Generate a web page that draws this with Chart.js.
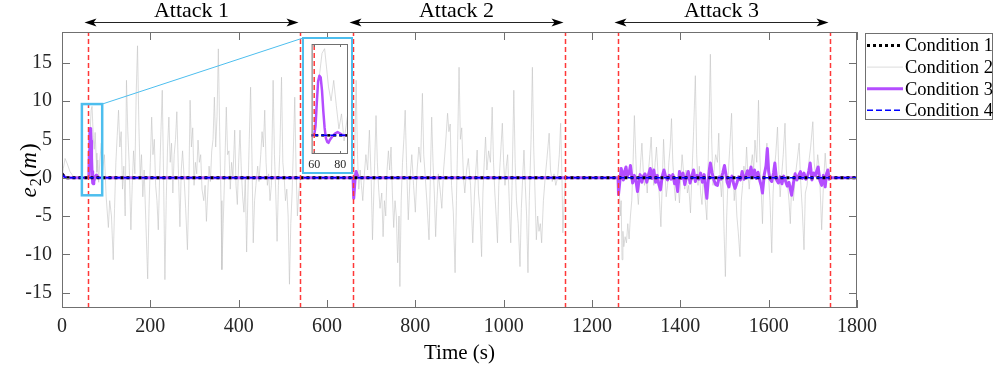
<!DOCTYPE html>
<html>
<head>
<meta charset="utf-8">
<script src="https://cdn.jsdelivr.net/npm/chart.js@4.4.1/dist/chart.umd.min.js"></script>
<style>
  html, body { margin: 0; padding: 0; background: #fff; }
  #wrap { position: relative; width: 996px; height: 365px; }
  #main { position: absolute; left: 0; top: 0; }
  #insetBox { position: absolute; left: 302px; top: 37px; width: 51px; height: 137px;
              border: 2px solid #4dbeee; box-sizing: border-box; background: #fff; }
  #inset { display: block; }
</style>
</head>
<body>
<div id="wrap">
  <canvas id="main" width="996" height="365"></canvas>
  <div id="insetBox"><canvas id="inset" width="47" height="133"></canvas></div>
</div>
<script>
// ── data ─────────────────────────────────────────────────────────────────────
const seriesNames = ['Condition 1', 'Condition 2', 'Condition 3', 'Condition 4'];
const attackNames = ['Attack 1', 'Attack 2', 'Attack 3'];
const attackStart = [60, 660, 1260];
const attackEnd   = [540, 1140, 1740];
const xTicks = [0, 200, 400, 600, 800, 1000, 1200, 1400, 1600, 1800];
const yTicks = [-15, -10, -5, 0, 5, 10, 15];
const insetTicks = [60, 80];

// Condition 1 / 4 : settle to zero almost immediately
const cond1 = [[0, 0.5], [3, 0.3], [6, 0.1], [10, 0], [1800, 0]];
const cond4 = [[0, 0.45], [3, 0.25], [6, 0.08], [10, 0], [1800, 0]];

// Condition 2 (grey) – [time, e2]
const gray1 = [[0,0],[3,1.2],[7,2.5],[12,1.8],[18,0.8],[25,0.2],[30,0],[58,0],[60,0.2],[63,5.2],[66,8.8],[68,9.3],
  [71,5.2],[73,3.7],[75,5.9],[77,3.2],[79,0.7],[81,2.3],[83,-0.6],[86,2.5],[89,4.5],[92,1.0],[96,3.0],[100,-2.5],
  [105,-6.5],[108,-3.0],[112,-5.0],[116,-10.7],[119,-4.0],[122,2.0],[125,5.5],[128,8.8],[131,4.0],[134,6.0],[137,-1.5],
  [140,1.5],[143,-5.0],[146,12.7],[149,6.0],[152,2.0],[156,-6.8],[159,-1.0],[162,3.5],[165,0.5],[168,11.0],[171,17.2],
  [174,7.0],[177,0.0],[180,3.0],[183,-2.5],[186,1.0],[190,-6.0],[194,-13.2],[197,-4.0],[200,2.0],[203,7.9],[206,3.0],
  [209,5.0],[212,-1.0],[215,-3.0],[218,-6.8],[221,0.0],[224,6.0],[227,11.4],[230,0.0],[233,-13.3],[236,-3.0],[239,4.0],
  [242,7.9],[245,2.0],[248,4.5],[251,-2.0],[254,3.0],[257,5.0],[260,8.6],[263,2.0],[267,-6.4],[270,1.0],[273,3.5],
  [276,0.5],[280,-4.0],[284,-9.4],[287,-2.0],[290,10.1],[293,4.0],[296,6.5],[299,-1.0],[302,2.0],[305,0.5],[308,4.9],
  [311,2.0],[314,3.0],[317,-1.5],[321,-3.0],[324,-1.0],[327,-5.7],[330,-2.0],[333,1.5],[336,-0.5],[339,3.5],[342,5.0],
  [345,10.5],[348,4.0],[351,8.0],[354,16.8],[357,6.0],[360,-3.0],[362,-12.0],[365,-6.0],[368,0.0],[372,9.2],[375,3.0],
  [378,3.5],[381,-1.5],[384,2.0],[387,0.0],[391,6.2],[394,-1.0],[397,-3.5],[400,2.0],[403,6.2],[406,1.0],[409,-2.5],
  [412,-4.5],[415,0.0],[418,-9.7],[421,-2.0],[424,5.0],[427,11.8],[430,3.0],[433,-8.5],[436,-3.0],[439,-1.0],[443,1.5],
  [446,-0.5],[450,3.0],[453,6.0],[456,4.0],[459,8.8],[462,2.0],[465,-1.0],[468,0.5],[471,-3.0],[474,-1.0],[478,12.7],
  [481,3.0],[484,-2.0],[487,-8.3],[490,-1.0],[493,3.0],[497,13.1],[500,2.0],[503,0.0],[506,-3.0],[509,-1.5],[512,-5.0],
  [515,-13.9],[518,-6.0],[521,-2.0],[524,4.0],[527,10.5],[530,1.0],[533,-5.0],[536,-2.0],[540,0]];
const gray2 = [[660,0],[663,4.0],[666,12.7],[669,3.0],[672,-1.5],[675,1.0],[678,-1.0],[681,-3.0],[684,0.0],[688,3.0],
  [692,1.0],[696,6.2],[700,0.0],[703,-8.1],[707,0.0],[711,8.1],[714,2.0],[717,-1.5],[720,-4.0],[724,-2.0],[727,-7.7],
  [730,-3.0],[733,-5.0],[736,1.0],[739,3.5],[742,1.0],[745,4.0],[748,-2.0],[751,-6.5],[754,-3.0],[757,-5.0],[760,-11.1],
  [763,-5.0],[765,-14.2],[768,-3.0],[771,2.0],[774,5.0],[777,8.8],[780,2.0],[784,-5.5],[788,0.0],[792,3.0],[796,-1.0],
  [800,-4.5],[804,1.0],[808,4.0],[812,2.0],[816,11.0],[819,3.0],[822,0.5],[826,-3.0],[831,-8.1],[834,0.0],[837,7.9],
  [840,2.0],[843,-2.0],[846,-7.7],[849,-3.0],[852,0.5],[856,-1.5],[860,-4.0],[864,1.0],[868,4.0],[873,8.4],[876,6.0],
  [879,7.0],[882,-1.0],[886,-4.5],[890,-12.4],[893,-3.0],[896,5.0],[899,14.4],[902,5.0],[905,6.5],[909,0.0],[912,-2.0],
  [916,1.0],[920,2.5],[925,-1.0],[930,-8.5],[934,-2.0],[937,1.0],[940,3.6],[943,-2.0],[946,-4.0],[950,-10.3],[953,-2.0],
  [956,2.0],[959,5.3],[962,1.0],[966,3.5],[970,2.0],[974,9.2],[977,2.0],[980,-2.0],[983,-5.0],[986,-8.5],[989,-1.0],
  [992,2.0],[997,7.1],[1000,2.0],[1003,-1.0],[1006,1.5],[1009,3.0],[1012,-2.0],[1016,-8.5],[1019,-1.0],[1023,11.4],
  [1026,2.0],[1029,-3.0],[1033,-6.0],[1037,-11.6],[1040,-4.0],[1043,0.0],[1046,3.6],[1049,-1.0],[1052,-5.0],[1055,-12.4],
  [1058,-3.0],[1062,5.0],[1065,14.4],[1068,4.0],[1071,-2.0],[1074,-8.1],[1077,-5.0],[1080,-7.0],[1083,-6.0],[1086,-8.5],
  [1090,-3.0],[1094,0.0],[1098,2.5],[1103,5.8],[1106,1.0],[1110,-0.5],[1114,0.5],[1118,-1.0],[1122,0.0],[1126,3.0],
  [1129,7.1],[1132,0.0],[1134,-7.2],[1137,-3.0],[1140,0]];
const gray3 = [[1260,0],[1262,-2.0],[1264,-5.0],[1266,-3.0],[1268,-10.7],[1270,-7.0],[1272,-9.0],[1275,-7.7],[1278,-8.5],
  [1281,-6.0],[1284,-8.0],[1287,-5.0],[1290,-3.0],[1293,2.0],[1296,8.1],[1299,3.0],[1302,-1.5],[1305,-3.5],[1308,0.0],
  [1310,2.0],[1313,4.5],[1316,1.0],[1319,-1.0],[1322,0.5],[1325,-2.0],[1328,1.0],[1331,3.0],[1334,5.3],[1337,1.0],
  [1340,-1.0],[1343,2.0],[1346,4.0],[1349,1.0],[1352,-2.0],[1356,-6.4],[1359,-1.0],[1362,5.0],[1365,1.0],[1368,-2.5],
  [1371,-1.0],[1374,2.0],[1377,4.0],[1380,7.7],[1383,2.0],[1386,-1.0],[1389,-3.0],[1392,0.0],[1395,-1.0],[1398,-3.3],
  [1401,0.0],[1404,3.0],[1407,1.0],[1410,-1.5],[1413,1.0],[1416,-2.0],[1419,-1.0],[1423,-4.6],[1426,0.0],[1430,6.0],
  [1434,13.3],[1437,3.0],[1440,-1.0],[1443,1.5],[1446,-2.0],[1449,-3.5],[1452,0.0],[1455,-2.0],[1460,-5.5],[1463,2.0],
  [1466,10.0],[1468,16.1],[1471,5.0],[1474,-1.0],[1477,1.5],[1480,3.0],[1484,2.0],[1487,5.8],[1490,0.0],[1493,-2.5],
  [1496,0.5],[1499,-7.0],[1502,-12.9],[1505,-5.0],[1508,0.0],[1512,4.0],[1516,8.4],[1519,2.0],[1522,-3.0],[1525,-1.0],
  [1528,-5.0],[1531,-7.0],[1535,-10.3],[1538,-3.0],[1541,-1.0],[1544,1.5],[1547,0.0],[1550,4.0],[1553,0.5],[1556,-1.5],
  [1559,1.0],[1563,3.0],[1566,1.0],[1569,4.9],[1573,2.0],[1577,10.1],[1580,3.0],[1583,-1.5],[1586,-6.0],[1589,0.0],
  [1593,2.0],[1596,4.5],[1599,1.0],[1603,-3.0],[1607,-9.8],[1610,-2.0],[1613,1.0],[1616,3.0],[1620,6.6],[1623,1.0],
  [1626,-2.5],[1629,0.0],[1633,3.0],[1637,7.1],[1640,1.0],[1643,-1.0],[1646,-3.0],[1649,-6.0],[1652,-1.0],[1656,-3.0],
  [1660,0.0],[1664,2.0],[1669,4.5],[1672,0.0],[1676,-4.0],[1680,-9.4],[1683,-2.0],[1687,-1.0],[1691,2.0],[1695,4.0],
  [1700,7.3],[1703,2.0],[1707,0.0],[1711,3.0],[1715,1.0],[1720,-6.8],[1724,-1.0],[1728,3.2],[1732,0.0],[1736,1.0],
  [1740,0],[1800,0]];

// Condition 3 (purple) – [time, e2]
const purple1 = [[0,0.5],[3,0.3],[6,0.1],[10,0],[60,0],[61,1.0],[62,3.5],[63,5.8],[64,6.4],[65,6.2],[66,4.8],[67,2.6],
  [68,0.8],[69,-0.3],[70,-0.7],[71,-0.8],[72,-0.5],[74,-0.1],[76,0.2],[78,0.35],[80,0.2],[82,0]];
const purple2 = [[659,0],[660,-0.5],[661,-2.7],[662,-1.5],[664,0.2],[666,0.8],[668,0.4],[671,0]];
const purple3 = [[1259,0],[1260,-2.2],[1263,-0.5],[1266,1.2],[1269,0.5],[1271,-0.3],[1274,0.8],[1277,1.4],[1280,0.2],
  [1284,0.6],[1287,1.6],[1290,0.2],[1292,-0.7],[1296,0.3],[1300,-0.6],[1303,-1.8],[1306,-0.5],[1309,0.4],[1313,-0.6],
  [1316,0.2],[1320,0.5],[1324,-0.6],[1328,0.4],[1332,1.2],[1336,-0.1],[1340,1.0],[1344,-0.6],[1348,0.3],[1351,-0.8],
  [1355,-1.6],[1359,0.2],[1363,1.0],[1367,0.1],[1371,-0.3],[1375,0.3],[1379,-0.2],[1383,0.4],[1387,-0.8],[1390,-0.3],
  [1394,-1.8],[1398,0.8],[1402,-0.1],[1406,0.6],[1410,-0.9],[1414,0.1],[1418,0.8],[1422,-0.7],[1426,0.2],[1430,1.0],
  [1434,-0.5],[1438,0.3],[1442,-0.2],[1446,0.6],[1450,-0.6],[1454,0.4],[1457,-1.2],[1460,-2.7],[1463,-0.5],[1466,1.2],
  [1468,1.9],[1472,0.6],[1476,-0.3],[1480,-0.9],[1484,-1.0],[1488,0.1],[1492,-0.2],[1496,0.6],[1500,1.6],[1503,0.5],
  [1506,-0.6],[1510,-1.2],[1513,-0.3],[1517,0.2],[1521,-0.9],[1524,-1.4],[1528,-0.7],[1532,0.1],[1536,-0.3],[1540,0.8],
  [1544,-0.2],[1548,0.2],[1552,0.9],[1556,0.2],[1560,1.4],[1564,0.1],[1568,1.0],[1572,-0.1],[1576,0.7],[1580,-0.4],
  [1583,-1.0],[1586,-2.0],[1590,0.4],[1594,1.5],[1597,3.8],[1600,0.8],[1603,-0.2],[1607,-0.5],[1611,0.6],[1614,1.9],
  [1618,-0.3],[1622,-0.7],[1626,0.1],[1630,-0.8],[1634,0.2],[1638,-0.4],[1642,-1.1],[1646,-0.6],[1649,-1.5],[1652,-2.3],
  [1656,-0.7],[1660,0.5],[1664,-0.3],[1668,0.3],[1672,0.8],[1676,-0.1],[1680,0.6],[1684,-0.2],[1688,0.2],[1691,0.9],
  [1694,1.9],[1698,-0.3],[1702,0.6],[1706,0.3],[1709,0.9],[1712,1.4],[1716,-0.4],[1720,-1.0],[1724,0.3],[1728,-1.2],
  [1731,0.5],[1734,1.0],[1737,-0.2],[1741,0],[1800,0]];

// ── helpers ─────────────────────────────────────────────────────────────────
const SERIF = "'Liberation Serif', 'Times New Roman', serif";
const BLUE_BOX = '#4dbeee';
const toXY = pairs => pairs.map(([t, v]) => ({ x: t, y: v }));

function buildDatasets(yMin, yMax, thick) {
  const bounds = [...attackStart, ...attackEnd];
  const redLines = bounds.map(b => ({
    data: [{ x: b, y: yMin }, { x: b, y: yMax }],
    borderColor: '#ff3838', borderWidth: 1.5, borderDash: [5, 3], pointRadius: 0
  }));
  return [
    ...redLines,
    { label: seriesNames[3], data: toXY(cond4), borderColor: '#0000ff', borderWidth: 1.5, borderDash: [6, 3], pointRadius: 0 },
    { label: seriesNames[0], data: toXY(cond1), borderColor: '#000000', borderWidth: thick, borderDash: [3, 3], pointRadius: 0 },
    { label: seriesNames[2], data: toXY([...purple1, ...purple2, ...purple3]), borderColor: '#b44dff', borderWidth: thick,
      borderJoinStyle: 'round', borderCapStyle: 'round', pointRadius: 0 },
    { label: seriesNames[1], data: toXY([...gray1, ...gray2, ...gray3]), borderColor: '#c2c2c2', borderWidth: 0.6, pointRadius: 0 }
  ];
}

// ── main chart decorations ───────────────────────────────────────────────────
const mainDecor = {
  id: 'mainDecor',
  afterDatasetsDraw(chart) {
    const { ctx, chartArea: a, scales: { x, y } } = chart;
    ctx.save();

    // axes box + inward ticks on all sides
    ctx.strokeStyle = '#707070';
    ctx.lineWidth = 1;
    ctx.strokeRect(a.left + 0.5, a.top + 0.5, a.width - 1, a.height - 1);
    ctx.beginPath();
    xTicks.forEach(v => {
      const px = Math.round(x.getPixelForValue(v)) + 0.5;
      ctx.moveTo(px, a.bottom); ctx.lineTo(px, a.bottom - 8);
      ctx.moveTo(px, a.top);    ctx.lineTo(px, a.top + 8);
    });
    yTicks.forEach(v => {
      const py = Math.round(y.getPixelForValue(v)) + 0.5;
      ctx.moveTo(a.left, py);  ctx.lineTo(a.left + 8, py);
      ctx.moveTo(a.right, py); ctx.lineTo(a.right - 8, py);
    });
    ctx.stroke();

    // zoom box and connector to the inset
    const bx0 = x.getPixelForValue(45), bx1 = x.getPixelForValue(91);
    const by0 = y.getPixelForValue(9.6), by1 = y.getPixelForValue(-2.3);
    ctx.strokeStyle = BLUE_BOX;
    ctx.lineWidth = 2.5;
    ctx.strokeRect(bx0, by0, bx1 - bx0, by1 - by0);
    ctx.lineWidth = 1;
    ctx.beginPath();
    ctx.moveTo(bx1, by0);
    ctx.lineTo(303, 38);
    ctx.stroke();

    // attack arrows
    ctx.fillStyle = '#000';
    ctx.strokeStyle = '#222';
    ctx.font = `22px ${SERIF}`;
    ctx.textAlign = 'center';
    ctx.textBaseline = 'alphabetic';
    attackStart.forEach((s, i) => {
      const x0 = x.getPixelForValue(s) - 4, x1 = x.getPixelForValue(attackEnd[i]) - 2, ay = 22.5;
      ctx.beginPath();
      ctx.moveTo(x0 + 8, ay); ctx.lineTo(x1 - 8, ay);
      ctx.stroke();
      [[x0, 1], [x1, -1]].forEach(([tx, d]) => {
        ctx.beginPath();
        ctx.moveTo(tx, ay);
        ctx.lineTo(tx + d * 12, ay - 4);
        ctx.lineTo(tx + d * 9, ay);
        ctx.lineTo(tx + d * 12, ay + 4);
        ctx.closePath();
        ctx.fill();
      });
      ctx.fillText(attackNames[i], (x0 + x1) / 2, 17);
    });

    // x label
    ctx.font = `21px ${SERIF}`;
    ctx.fillText('Time (s)', (a.left + a.right) / 2, 359);

    // y label  e_2(m)
    ctx.translate(36, 170);
    ctx.rotate(-Math.PI / 2);
    const parts = [
      ['e', `italic 23px ${SERIF}`, 0],
      ['2', `16px ${SERIF}`, 5],
      ['(', `23px ${SERIF}`, 0],
      ['m', `italic 23px ${SERIF}`, 0],
      [')', `23px ${SERIF}`, 0]
    ];
    let total = 0;
    parts.forEach(p => { ctx.font = p[1]; total += ctx.measureText(p[0]).width + 1; });
    let cx = -total / 2;
    ctx.textAlign = 'left';
    parts.forEach(p => {
      ctx.font = p[1];
      ctx.fillText(p[0], cx, p[2]);
      cx += ctx.measureText(p[0]).width + 1;
    });
    ctx.setTransform(1, 0, 0, 1, 0, 0);

    // legend
    const lx = 865, ly = 33, lw = 127, lh = 86;
    ctx.fillStyle = '#fff';
    ctx.fillRect(lx, ly, lw, lh);
    ctx.strokeStyle = '#707070';
    ctx.lineWidth = 1;
    ctx.strokeRect(lx + 0.5, ly + 0.5, lw, lh);
    const byLabel = {};
    chart.data.datasets.forEach(d => { if (d.label) byLabel[d.label] = d; });
    ctx.font = `18.5px ${SERIF}`;
    ctx.textBaseline = 'middle';
    seriesNames.forEach((name, i) => {
      const d = byLabel[name], ry = 45.5 + i * 21.6;
      ctx.save();
      ctx.strokeStyle = d.borderColor;
      ctx.lineWidth = d.borderWidth;
      ctx.setLineDash(d.borderDash || []);
      ctx.beginPath();
      ctx.moveTo(867, ry); ctx.lineTo(903, ry);
      ctx.stroke();
      ctx.restore();
      ctx.fillStyle = '#000';
      ctx.fillText(name, 905, ry + 1);
    });
    ctx.restore();
  }
};

const plainTick = v => String(v);

new Chart(document.getElementById('main').getContext('2d'), {
  type: 'line',
  data: { datasets: buildDatasets(-17, 19, 3) },
  options: {
    responsive: false,
    animation: false,
    events: [],
    layout: { padding: { left: 0, right: 139, top: 32, bottom: 0 } },
    elements: { line: { tension: 0 } },
    plugins: { legend: { display: false }, tooltip: { enabled: false } },
    scales: {
      x: {
        type: 'linear', min: 0, max: 1800,
        afterBuildTicks: s => { s.ticks = xTicks.map(v => ({ value: v })); },
        afterFit: s => { s.height = 57; },
        grid: { display: false, drawTicks: false },
        border: { display: false },
        ticks: { color: '#262626', padding: 7, maxRotation: 0, callback: plainTick, font: { family: SERIF, size: 20 } }
      },
      y: {
        type: 'linear', min: -17, max: 19,
        afterBuildTicks: s => { s.ticks = yTicks.map(v => ({ value: v })); },
        afterFit: s => { s.width = 62; },
        grid: { display: false, drawTicks: false },
        border: { display: false },
        ticks: { color: '#262626', padding: 10, callback: plainTick, font: { family: SERIF, size: 20 } }
      }
    }
  },
  plugins: [mainDecor]
});

// ── inset ───────────────────────────────────────────────────────────────────
const insetDecor = {
  id: 'insetDecor',
  afterDatasetsDraw(chart) {
    const { ctx, chartArea: a, scales: { x } } = chart;
    ctx.save();
    ctx.strokeStyle = '#707070';
    ctx.lineWidth = 1;
    ctx.strokeRect(a.left + 0.5, a.top + 0.5, a.width - 1, a.height - 1);
    ctx.beginPath();
    insetTicks.forEach(v => {
      const px = Math.round(x.getPixelForValue(v)) + 0.5;
      ctx.moveTo(px, a.bottom); ctx.lineTo(px, a.bottom - 3);
      ctx.moveTo(px, a.top);    ctx.lineTo(px, a.top + 3);
    });
    ctx.stroke();
    ctx.restore();
  }
};

new Chart(document.getElementById('inset').getContext('2d'), {
  type: 'line',
  data: { datasets: buildDatasets(-2, 9.8, 2.5) },
  options: {
    responsive: false,
    animation: false,
    events: [],
    layout: { padding: { left: 3, right: 3, top: 5, bottom: 0 } },
    elements: { line: { tension: 0 } },
    plugins: { legend: { display: false }, tooltip: { enabled: false } },
    scales: {
      x: {
        type: 'linear', min: 58, max: 86,
        afterBuildTicks: s => { s.ticks = insetTicks.map(v => ({ value: v })); },
        afterFit: s => { s.height = 18; },
        grid: { display: false, drawTicks: false },
        border: { display: false },
        ticks: { color: '#262626', padding: 4, maxRotation: 0, callback: plainTick, font: { family: SERIF, size: 12 } }
      },
      y: { type: 'linear', min: -2, max: 9.8, display: false }
    }
  },
  plugins: [insetDecor]
});
</script>
</body>
</html>
